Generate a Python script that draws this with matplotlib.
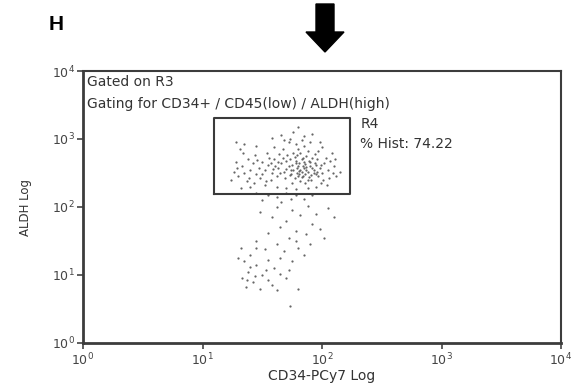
import numpy as np
import matplotlib
matplotlib.use("Agg")
import matplotlib.pyplot as plt
from matplotlib.patches import Polygon

plt.rcParams['font.family'] = ['DejaVu Sans']
plt.rcParams['mathtext.fontset'] = 'dejavusans'
plt.rcParams['mathtext.default'] = 'regular'

# ---- data (log10 coordinates of events) ----
log_cd34 = [
1.80,1.82,1.78,1.85,1.75,1.88,1.70,1.92,1.83,1.79,
1.86,1.74,1.90,1.81,1.77,1.84,1.72,1.95,1.68,1.87,
1.76,1.93,1.66,1.89,1.80,1.73,1.98,1.63,1.85,1.96,
1.60,1.71,1.82,1.91,2.00,1.58,1.69,1.78,1.88,2.02,
1.55,1.64,1.75,1.94,1.52,1.62,1.86,2.05,1.97,1.67,
1.50,1.57,1.83,1.72,1.99,1.47,1.60,2.07,1.90,1.45,
1.42,1.54,1.40,1.48,1.38,1.35,1.44,1.33,1.30,1.37,
1.28,1.31,1.26,1.52,1.62,1.70,1.78,1.88,1.95,2.04,
1.58,1.66,1.76,1.85,1.80,1.92,1.68,2.10,2.12,2.08,
1.45,1.35,1.28,1.40,1.32,1.24,2.15,2.00,1.98,1.73,
1.81,1.84,1.79,1.87,1.83,1.90,1.86,1.76,1.80,1.93,
1.89,1.84,1.91,1.78,1.74,1.96,1.82,1.70,1.94,1.88,
1.85,1.81,1.92,1.77,1.99,1.73,1.87,1.83,1.79,1.95,
1.50,1.56,1.46,1.53,1.61,1.65,1.59,1.67,1.63,1.57,
2.03,2.06,2.01,2.09,1.97,2.11,1.34,1.39,1.29,1.43,
1.45,1.55,1.62,1.70,1.78,1.85,1.92,1.50,1.66,1.74,
1.62,1.75,1.88,1.95,2.05,1.58,1.70,1.82,1.92,2.10,
1.48,1.65,1.78,1.87,1.55,1.72,1.98,1.45,1.62,1.80,
1.68,1.85,1.52,1.40,1.35,1.45,1.55,1.38,1.50,1.60,
1.33,1.42,1.55,1.65,1.36,1.48,1.58,1.70,1.40,1.30,
1.75,1.62,1.45,1.32,1.90,1.72,1.73,1.65,1.53,1.44,
1.80,1.37,2.02,1.78,
]
log_aldh = [
2.60,2.55,2.65,2.58,2.62,2.52,2.68,2.57,2.70,2.50,
2.63,2.55,2.66,2.48,2.73,2.45,2.60,2.62,2.52,2.75,
2.80,2.50,2.64,2.44,2.85,2.47,2.58,2.58,2.90,2.70,
2.70,2.76,2.38,2.40,2.50,2.50,2.42,2.92,2.82,2.64,
2.62,2.78,2.36,2.78,2.55,2.45,2.35,2.55,2.45,2.86,
2.66,2.40,2.98,2.95,2.36,2.58,2.88,2.68,2.95,2.48,
2.64,2.80,2.55,2.42,2.70,2.50,2.76,2.60,2.45,2.38,
2.66,2.85,2.52,2.32,2.30,2.28,2.26,2.28,2.30,2.32,
3.02,3.06,3.10,3.05,3.18,3.08,2.98,2.60,2.45,2.80,
2.90,2.92,2.95,2.30,2.28,2.40,2.52,2.88,2.95,3.00,
2.64,2.61,2.57,2.55,2.52,2.60,2.48,2.54,2.45,2.55,
2.68,2.72,2.47,2.68,2.48,2.52,2.80,2.56,2.65,2.40,
2.66,2.53,2.72,2.42,2.62,2.70,2.59,2.44,2.77,2.48,
2.48,2.72,2.69,2.38,2.60,2.50,2.56,2.72,2.66,2.64,
2.72,2.42,2.40,2.50,2.82,2.70,2.80,2.42,2.58,2.35,
2.20,2.18,2.15,2.20,2.17,2.12,2.18,2.10,2.08,2.12,
2.00,1.95,2.02,1.90,1.98,1.85,1.80,1.88,1.75,1.85,
1.92,1.70,1.65,1.60,1.62,1.55,1.68,1.50,1.45,1.40,
1.35,1.30,1.38,1.30,1.20,1.15,1.22,1.05,1.00,1.10,
0.95,0.90,0.92,1.02,0.82,0.80,0.85,0.95,1.12,1.25,
1.20,0.78,1.40,1.40,1.45,1.08,0.55,1.25,1.08,0.98,
0.80,0.92,1.55,1.50,
]
cd34 = 10 ** np.array(log_cd34)
aldh = 10 ** np.array(log_aldh)

gate_x = [12.5, 171]
gate_y = [155, 2040]
gate_name = "R4"
gate_pct = 74.22
decades = [1, 10, 100, 1000, 10000]
tick_labels = [r'$10^{0}$', r'$10^{1}$', r'$10^{2}$', r'$10^{3}$', r'$10^{4}$']

W, H = 579, 392
fig = plt.figure(figsize=(W / 100, H / 100), dpi=100)
ax = fig.add_axes([83 / W, 1 - 343 / H, (561 - 83) / W, (343 - 71) / H])
ax.set_xscale('log')
ax.set_yscale('log')
ax.set_xlim(1, 10000)
ax.set_ylim(1, 10000)

ax.scatter(cd34, aldh, s=2.6, c='#666666', marker='o', linewidths=0, zorder=3)

gx = [gate_x[0], gate_x[1], gate_x[1], gate_x[0], gate_x[0]]
gy = [gate_y[0], gate_y[0], gate_y[1], gate_y[1], gate_y[0]]
ax.plot(gx, gy, color='#3a3a3a', lw=1.5, zorder=4)

ax.set_xticks(decades)
ax.set_xticklabels(tick_labels)
ax.set_yticks(decades)
ax.set_yticklabels(tick_labels)
ax.minorticks_off()
ax.tick_params(axis='both', direction='out', length=4, width=1.2, colors='#444444',
               labelsize=9, labelcolor='#444444', pad=2)
for side in ['left', 'bottom']:
    ax.spines[side].set_linewidth(2.0)
    ax.spines[side].set_color('#3c3c3c')
for side in ['top', 'right']:
    ax.spines[side].set_linewidth(1.5)
    ax.spines[side].set_color('#3c3c3c')

ax.set_xlabel('CD34-PCy7 Log', fontsize=10, color='#333333', labelpad=0.5)
ax.set_ylabel('ALDH Log', fontsize=8.5, color='#333333', labelpad=14)

tc = '#333333'
ax.text(0.008, 0.985, 'Gated on R3', transform=ax.transAxes, fontsize=10, color=tc,
        va='top', ha='left')
ax.text(0.008, 0.905, 'Gating for CD34+ / CD45(low) / ALDH(high)', transform=ax.transAxes,
        fontsize=10, color=tc, va='top', ha='left')
ax.text(gate_x[1] * 1.22, gate_y[1] * 1.02, gate_name, fontsize=10, color=tc, va='top', ha='left')
ax.text(gate_x[1] * 1.22, gate_y[1] * 0.53, f'% Hist: {gate_pct:.2f}', fontsize=10, color=tc,
        va='top', ha='left')

fig.text(56 / W, 1 - 25 / H, 'H', fontsize=15, fontweight='bold', ha='center', va='center',
         family='Liberation Sans')

# downward arrow above plot
cx = 325
arrow_px = [(cx - 9, 4), (cx + 9, 4), (cx + 9, 32), (cx + 19, 32), (cx, 52),
            (cx - 19, 32), (cx - 9, 32)]
arrow_fig = [(x / W, 1 - y / H) for x, y in arrow_px]
fig.patches.append(Polygon(arrow_fig, closed=True, facecolor='black', edgecolor='black',
                           transform=fig.transFigure))

fig.savefig('out.png', dpi=100)
